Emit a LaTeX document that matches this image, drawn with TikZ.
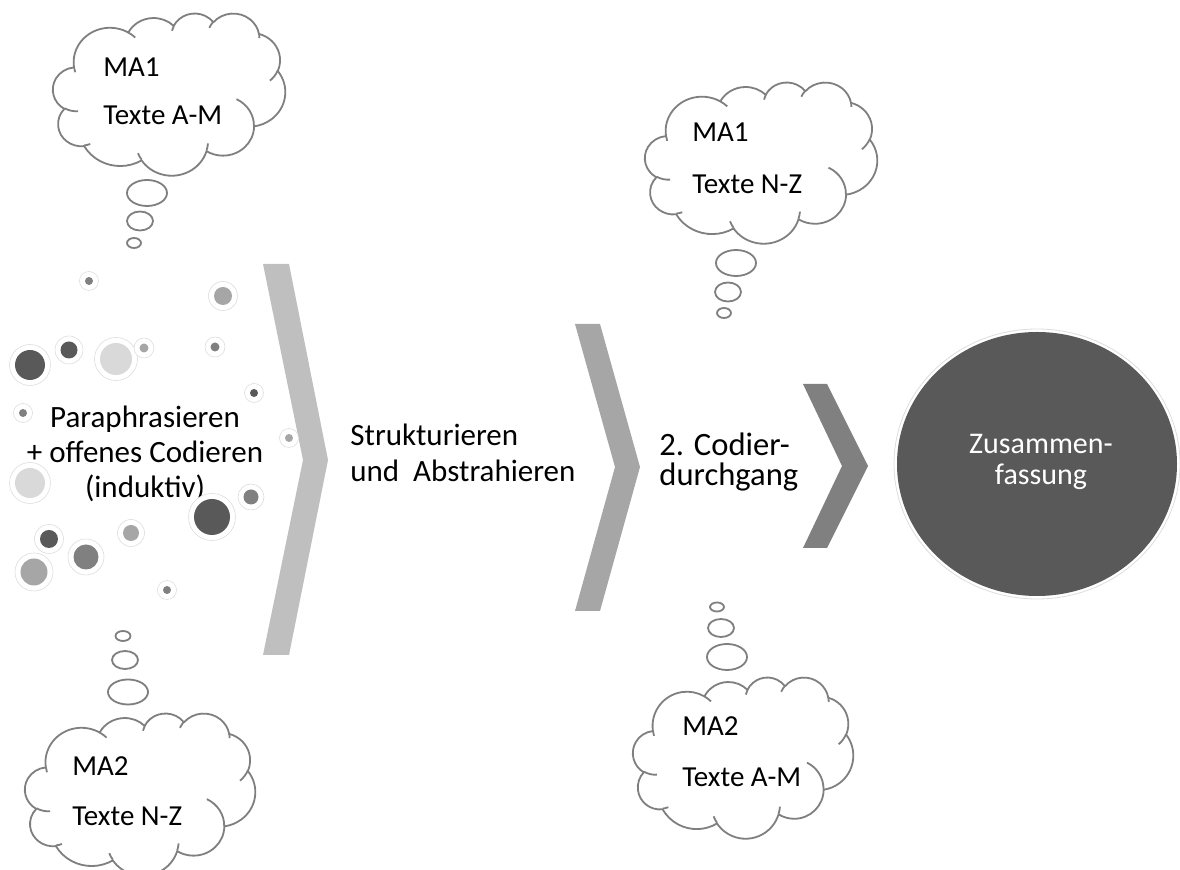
\documentclass[tikz,border=0pt]{standalone}
\usepackage{fontspec}
\setmainfont{Carlito}
\definecolor{cA}{HTML}{BFBFBF}
\definecolor{cB}{HTML}{A6A6A6}
\definecolor{cC}{HTML}{808080}
\definecolor{cD}{HTML}{595959}
\definecolor{cE}{HTML}{D9D9D9}
\definecolor{cloudgray}{HTML}{7F7F7F}
\definecolor{ringgray}{HTML}{DDDDDD}
\tikzset{
  cloudline/.style={draw=cloudgray, line width=0.9pt, line join=round},
  bubble/.style={draw=cloudgray, line width=0.9pt, fill=white},
  bigtext/.style={inner sep=0pt, font=\fontsize{15.5}{17.5}\selectfont},
  cloudtext/.style={inner sep=0pt, anchor=base west, font=\fontsize{14.5}{16}\selectfont},
  chevronA/.style={fill=cA},
  chevronB/.style={fill=cB},
  chevronC/.style={fill=cC},
}
% elliptical arc with OOXML-style (visual) angles
\newcommand\oarc[4]{arc[x radius=#1, y radius=#2, start angle={atan2(#1*sin(#3),#2*cos(#3))}, delta angle={mod(atan2(#1*sin(#3+#4),#2*cos(#3+#4))-atan2(#1*sin(#3),#2*cos(#3))+720,360)}]}
% cloud: top-left x, y, width, height (pixels)
\newcommand\officecloud[4]{%
  \pgfmathsetmacro\cwx{#3*0.005}%
  \pgfmathsetmacro\chy{#4*0.005}%
  \begin{scope}[shift={(#1,#2)}, x=\cwx pt, y=-\chy pt]
    \draw[cloudline, fill=white] (9.028,33.264)
      \oarc{15.632}{21.273}{-190.4875}{123.7805}
      \oarc{12.345}{16.822}{-144.1024}{89.9452}
      \oarc{10.104}{13.762}{-145.8079}{99.7230}
      \oarc{11.243}{15.266}{-130.9861}{117.2417}
      \oarc{12.345}{16.836}{-78.7089}{109.0269}
      \oarc{15.683}{21.343}{-46.2673}{130.2690}
      \oarc{13.391}{18.211}{0.6250}{114.0333}
      \oarc{15.630}{21.331}{22.4516}{115.1726}
      \oarc{17.870}{24.405}{66.2426}{75.7110}
      \oarc{10.093}{13.699}{-274.9421}{146.7356}
      \oarc{10.058}{13.762}{-246.8285}{152.5189}
      -- cycle;
    \draw[cloudline]
      (10.863,60.595) \oarc{10.058}{13.762}{86.7420}{26.4295}
      (16.037,80.785) \oarc{10.093}{13.699}{73.6105}{11.4475}
      (38.144,90.486) \oarc{15.630}{21.331}{137.6242}{14.0811}
      (66.729,80.442) \oarc{15.630}{21.331}{6.4533}{15.9984}
      (79.002,53.134) \oarc{13.391}{18.211}{-70.2924}{70.9174}
      (96.755,35.542) \oarc{12.345}{16.836}{30.3180}{27.7515}
      (88.713,12.560) \oarc{11.243}{15.266}{-13.7443}{14.8604}
      (67.310,9.148) \oarc{11.243}{15.266}{-149.1815}{18.1970}
      (51.252,10.926) \oarc{10.104}{13.762}{-163.4943}{17.8409}
      (32.407,12.019) \oarc{15.632}{21.273}{-66.7070}{12.3194}
      (9.553,36.549) \oarc{15.632}{21.273}{157.6544}{11.8582};
  \end{scope}}
% dot with white ring: x y r color
\newcommand\ringdot[4]{%
  \fill[white, draw=ringgray, line width=0.3pt] (#1,#2) circle[radius=#3+5.5];
  \fill[#4] (#1,#2) circle[radius=#3];}
\begin{document}
\begin{tikzpicture}[x=0.5pt, y=-0.5pt]
\useasboundingbox (0,0) rectangle (1180,870);

% chevrons
\draw[chevronA, draw=none] (263,264) -- (289,264) -- (328,460) -- (289,655) -- (263,655) -- (303,460) -- cycle;
\draw[chevronB, draw=none] (575,324) -- (600,324) -- (640,467) -- (600,611) -- (575,611) -- (615,467) -- cycle;
\draw[chevronC, draw=none] (803,384) -- (827,384) -- (868,466) -- (827,548) -- (803,548) -- (842,466) -- cycle;

% summary circle
\draw[draw=ringgray, line width=0.4pt, fill=white] (1037,464) ellipse [x radius=143, y radius=135];
\fill[cD] (1037,464) ellipse [x radius=140, y radius=132];
\node[bigtext, anchor=base, align=center, text=white, font=\fontsize{15}{15.5}\selectfont] (zus) at (1041,485) {Zusammen-\\fassung};

% step texts (anchor = baseline of last line)
\node[bigtext, anchor=base, align=center] (para) at (145,498) {Paraphrasieren\\+ offenes Codieren\\(induktiv)};
\node[bigtext, anchor=base west, align=left, font=\fontsize{15.5}{18}\selectfont] (struk) at (350,482) {Strukturieren\\und~~Abstrahieren};
\node[bigtext, anchor=base west, align=left, font=\fontsize{16.3}{15}\selectfont] (cod) at (659,486) {2. Codier-\\durchgang};

% dots
\ringdot{89}{281}{4}{cC}
\ringdot{223}{296}{9}{cB}
\ringdot{30}{365}{15}{cD}
\ringdot{69}{350}{8.5}{cD}
\ringdot{116}{359}{16}{cE}
\ringdot{144}{348}{4.5}{cB}
\ringdot{215}{347}{4.5}{cC}
\ringdot{254}{393}{4}{cD}
\ringdot{23}{413}{4}{cC}
\ringdot{289}{438}{4}{cB}
\ringdot{30}{483}{15}{cE}
\ringdot{251}{497}{7.5}{cC}
\ringdot{212}{517}{18}{cD}
\ringdot{49}{539}{9}{cD}
\ringdot{131}{533}{8}{cB}
\ringdot{86}{557}{12.5}{cC}
\ringdot{34}{572}{13.5}{cB}
\ringdot{167}{590}{4}{cC}

% cloud 1 (top left)
\officecloud{53}{13}{232}{162}
\node[cloudtext] (c1a) at (103,77) {MA1};
\node[cloudtext] (c1b) at (103,125) {Texte A-M};
\draw[bubble] (147,193) ellipse [x radius=20, y radius=13];
\draw[bubble] (140,221) ellipse [x radius=13, y radius=9.5];
\draw[bubble] (134,243) ellipse [x radius=7, y radius=5];

% cloud 2 (top right)
\officecloud{645}{82}{232}{161}
\node[cloudtext] (c2a) at (692,142) {MA1};
\node[cloudtext] (c2b) at (692,194) {Texte N-Z};
\draw[bubble] (736,263) ellipse [x radius=20, y radius=13];
\draw[bubble] (728,292) ellipse [x radius=13, y radius=9.5];
\draw[bubble] (724,313) ellipse [x radius=7, y radius=5];

% cloud 3 (bottom left)
\draw[bubble] (123,636) ellipse [x radius=7.5, y radius=5];
\draw[bubble] (125,660) ellipse [x radius=13, y radius=9];
\draw[bubble] (128,692) ellipse [x radius=20, y radius=12.5];
\officecloud{25}{713}{230}{162}
\node[cloudtext] (c3a) at (72,776) {MA2};
\node[cloudtext] (c3b) at (72,826) {Texte N-Z};

% cloud 4 (bottom right)
\draw[bubble] (717,607) ellipse [x radius=7, y radius=4.5];
\draw[bubble] (721,628) ellipse [x radius=13, y radius=9];
\draw[bubble] (727,657) ellipse [x radius=20, y radius=13];
\officecloud{633}{677}{220}{161}
\node[cloudtext] (c4a) at (682,736) {MA2};
\node[cloudtext] (c4b) at (682,787) {Texte A-M};
\end{tikzpicture}
\end{document}
